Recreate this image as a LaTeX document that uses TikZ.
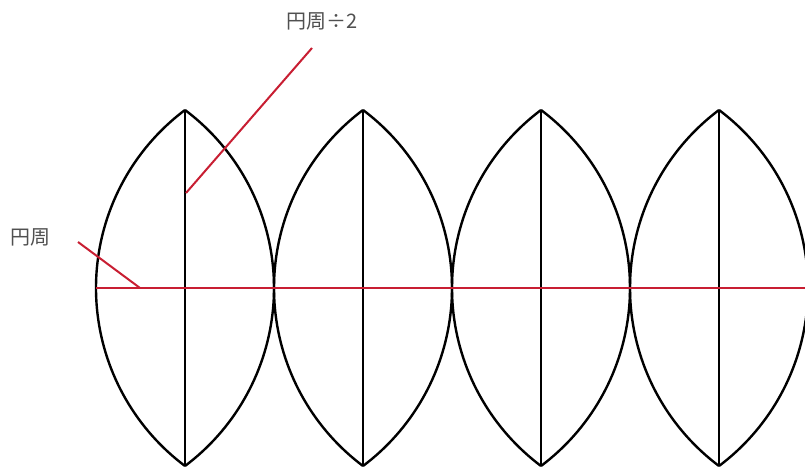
\documentclass[tikz,border=0pt]{standalone}
\usepackage{fontspec}
\newfontfamily\jpfont{Noto Sans CJK JP}
\definecolor{leadred}{RGB}{200,30,50}
\definecolor{labelgray}{RGB}{80,80,80}
\begin{document}
\begin{tikzpicture}[x=1pt,y=1pt,
  gore/.style={draw=black,line width=2.4pt},
  redline/.style={draw=leadred,line width=2pt},
  lbl/.style={font=\jpfont\fontsize{20}{24}\selectfont,text=labelgray,inner sep=0pt}]
\useasboundingbox (0,0) rectangle (805,466);
\clip (0,0) rectangle (805,466);
\foreach \i in {0,1,2,3}{
  \pgfmathsetmacro{\cx}{185+178*\i}
  \coordinate (t\i) at (\cx,356);
  \coordinate (b\i) at (\cx,0);
  \draw[gore] (t\i) arc[start angle=126.87,end angle=233.13,radius=222.5pt];
  \draw[gore] (t\i) arc[start angle=53.13,end angle=-53.13,radius=222.5pt];
  \draw[gore] (t\i) -- (b\i);
}
\coordinate (hl) at (96,178);
\coordinate (hr) at (806,178);
\draw[redline] (hl) -- (hr);
\node[lbl] (half) at (322,445) {円周÷2};
\node[lbl] (circ) at (30,229) {円周};
\coordinate (halfa) at (312,418);
\coordinate (halfb) at (186,273);
\coordinate (circa) at (78,224);
\coordinate (circb) at (140,178);
\draw[redline] (halfa) -- (halfb);
\draw[redline] (circa) -- (circb);
\end{tikzpicture}
\end{document}
